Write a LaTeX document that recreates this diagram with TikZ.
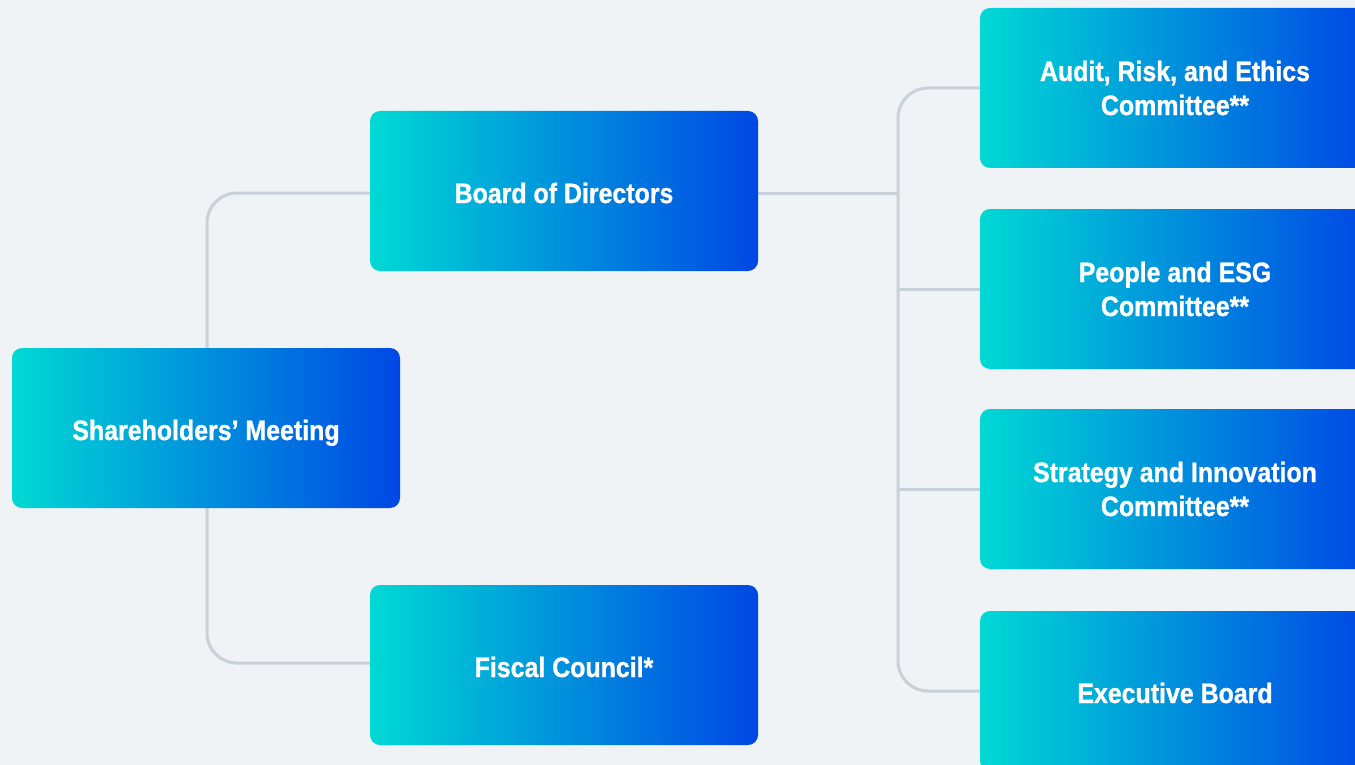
\documentclass[tikz,border=0pt]{standalone}
\usepackage{fontspec}
\newfontfamily\boxfont{Liberation Sans Bold}[FakeStretch=0.89, FakeBold=1]
\usetikzlibrary{backgrounds}
\definecolor{bgcol}{HTML}{F0F3F6}
\definecolor{linecol}{HTML}{C8D0D9}
\definecolor{cyanend}{HTML}{00D9D4}
\definecolor{blueend}{HTML}{0047E5}
\tikzset{
  orgbox/.style={rectangle, rounded corners=10pt, minimum width=388pt, minimum height=160pt,
    left color=cyanend, right color=blueend, text=white, align=center,
    font=\boxfont\fontsize{28}{34}\selectfont, inner sep=0pt},
  oneline/.style={text height=24pt, text depth=0pt},
  wide/.style={minimum width=390pt},
  conn/.style={draw=linecol, line width=3pt, rounded corners=30pt}
}
\begin{document}
\begin{tikzpicture}[x=1pt,y=-1pt]
  \useasboundingbox (0,0) rectangle (1355,765);
  \clip (0,0) rectangle (1355,765);

  % governing bodies
  \node[orgbox, oneline] (sh) at (206,428) {Shareholders’ Meeting};
  \node[orgbox, oneline] (bd) at (564,191) {Board of Directors};
  \node[orgbox, oneline] (fc) at (564,665) {Fiscal Council*};

  % committees and executive board
  \node[orgbox, wide] (ar) at (1175,88) {Audit, Risk, and Ethics\\Committee**};
  \node[orgbox, wide] (pe) at (1175,289) {People and ESG\\Committee**};
  \node[orgbox, wide] (si) at (1175,489) {Strategy and Innovation\\Committee**};
  \node[orgbox, wide, oneline] (eb) at (1175,691) {Executive Board};

  \coordinate (lt) at (207,0);
  \coordinate (rt) at (898,0);
  \coordinate (bdw) at ([yshift=-2pt]bd.west);
  \coordinate (bde) at ([yshift=-2pt]bd.east);
  \coordinate (fcw) at ([yshift=2pt]fc.west);

  \begin{scope}[on background layer]
    \fill[bgcol] (0,0) rectangle (1355,765);
    \draw[conn] (bdw) -- (bdw -| lt) |- (fcw);
    \draw[conn] (ar.west) -- (ar.west -| rt) |- (eb.west);
    \draw[conn] (bde) -- (bde -| rt);
    \draw[conn] (pe.west) -- (pe.west -| rt);
    \draw[conn] (si.west) -- (si.west -| rt);
  \end{scope}
\end{tikzpicture}
\end{document}
